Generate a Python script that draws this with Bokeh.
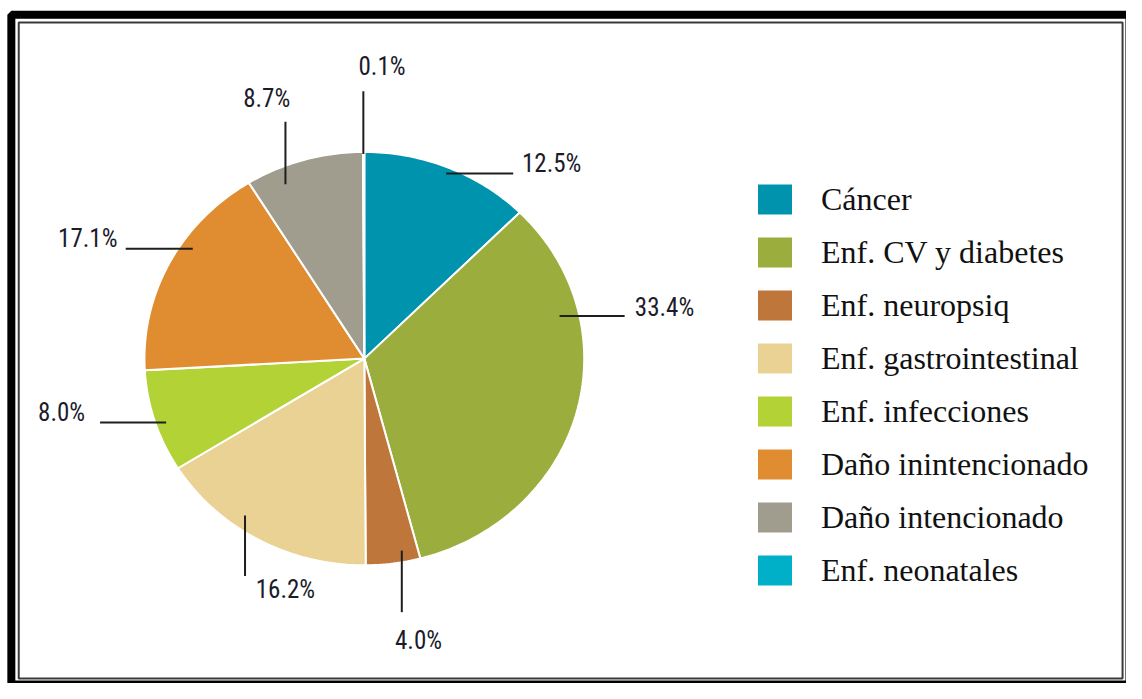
import math
from bokeh.plotting import figure
from bokeh.models import Range1d, ColumnDataSource, Legend, LegendItem
from bokeh.core.properties import value
from bokeh.embed import file_html
from bokeh.resources import INLINE

# ---------------- data ----------------
categories = ["Cáncer", "Enf. CV y diabetes", "Enf. neuropsiq", "Enf. gastrointestinal",
              "Enf. infecciones", "Daño inintencionado", "Daño intencionado", "Enf. neonatales"]
values = [12.5, 33.4, 4.0, 16.2, 8.0, 17.1, 8.7, 0.1]
colors = ["#0093AE", "#9BAD3D", "#BF763A", "#E9D294", "#B3D235", "#E08C31", "#A09D8F", "#00B0C9"]
pct_labels = [f"{v:.1f}%" for v in values]

# ---------------- layout (reference pixel coords, scaled to figure) ----------------
W, H = 1126, 683
SX, SY = W / 1142, H / 699
def fx(xp): return xp * SX
def fy(yp): return H - yp * SY

PIE_CX, PIE_CY = 369, 366.5
PIE_RX, PIE_RY = 223, 211.5

# leader lines per slice (reference coords): x0, y0, x1, y1
leaders = [(452, 177, 520, 177), (567, 323, 633, 323), (407, 563, 407, 626), (248, 527, 248, 589),
           (101, 432, 168, 432), (127, 254, 195, 254), (289, 124, 289, 188), (368, 93, 368, 157)]
# label centres per slice (reference coords)
label_pos = [(559, 167), (673.5, 314), (424, 655), (289, 603),
             (62, 422), (88.5, 244), (270, 100), (387, 68)]

p = figure(width=W, height=H, x_range=Range1d(0, W), y_range=Range1d(0, H),
           output_backend="svg", toolbar_location=None, min_border=0)
p.axis.visible = False
p.grid.visible = False
p.outline_line_color = None
p.background_fill_color = "white"
p.border_fill_color = "white"

# double frame
p.quad(left=[fx(11)], right=[fx(1145)], top=[fy(14.5)], bottom=[fy(700)], fill_alpha=0,
       line_color="black", line_width=8)
p.quad(left=[fx(18.5)], right=[fx(1138)], top=[fy(22.5)], bottom=[fy(694)], fill_alpha=0,
       line_color="#3a3a3a", line_width=2)

# pie slices
total = sum(values)
xs, ys = [], []
cum = 0.0
for v in values:
    a0 = math.radians(90 - cum / total * 360)
    cum += v
    a1 = math.radians(90 - cum / total * 360)
    n = max(3, int(abs(a1 - a0) * 180 / math.pi) + 2)
    px = [fx(PIE_CX)]
    py = [fy(PIE_CY)]
    for i in range(n + 1):
        t = a0 + (a1 - a0) * i / n
        px.append(fx(PIE_CX + PIE_RX * math.cos(t)))
        py.append(fy(PIE_CY - PIE_RY * math.sin(t)))
    xs.append(px)
    ys.append(py)

src = ColumnDataSource(dict(xs=xs, ys=ys, color=colors, label=categories))
r = p.patches("xs", "ys", source=src, fill_color="color", line_color="white", line_width=2)

# leader lines
p.segment(x0=[fx(l[0]) for l in leaders], y0=[fy(l[1]) for l in leaders],
          x1=[fx(l[2]) for l in leaders], y1=[fy(l[3]) for l in leaders],
          line_color="#1e1e1e", line_width=2)

# percentage labels
p.text(x=[fx(q[0]) for q in label_pos], y=[fy(q[1]) for q in label_pos], text=pct_labels,
       text_align="center", text_baseline="middle", text_color="#1b1b2a",
       text_font=value("'Liberation Sans Narrow', 'Roboto Condensed', 'DejaVu Sans Condensed', sans-serif"),
       text_font_size="25px")

# legend
items = [LegendItem(label=c, renderers=[r], index=i) for i, c in enumerate(categories)]
legend = Legend(items=items, location=(752, 93), orientation="vertical",
                glyph_width=45, glyph_height=40, label_standoff=24, spacing=13,
                padding=0, margin=0, border_line_alpha=0, background_fill_alpha=0,
                label_text_font="Liberation Serif", label_text_font_size="32px",
                label_text_color="#111111", label_height=40)
p.add_layout(legend, "center")

open("out.html", "w").write(file_html(p, INLINE))
